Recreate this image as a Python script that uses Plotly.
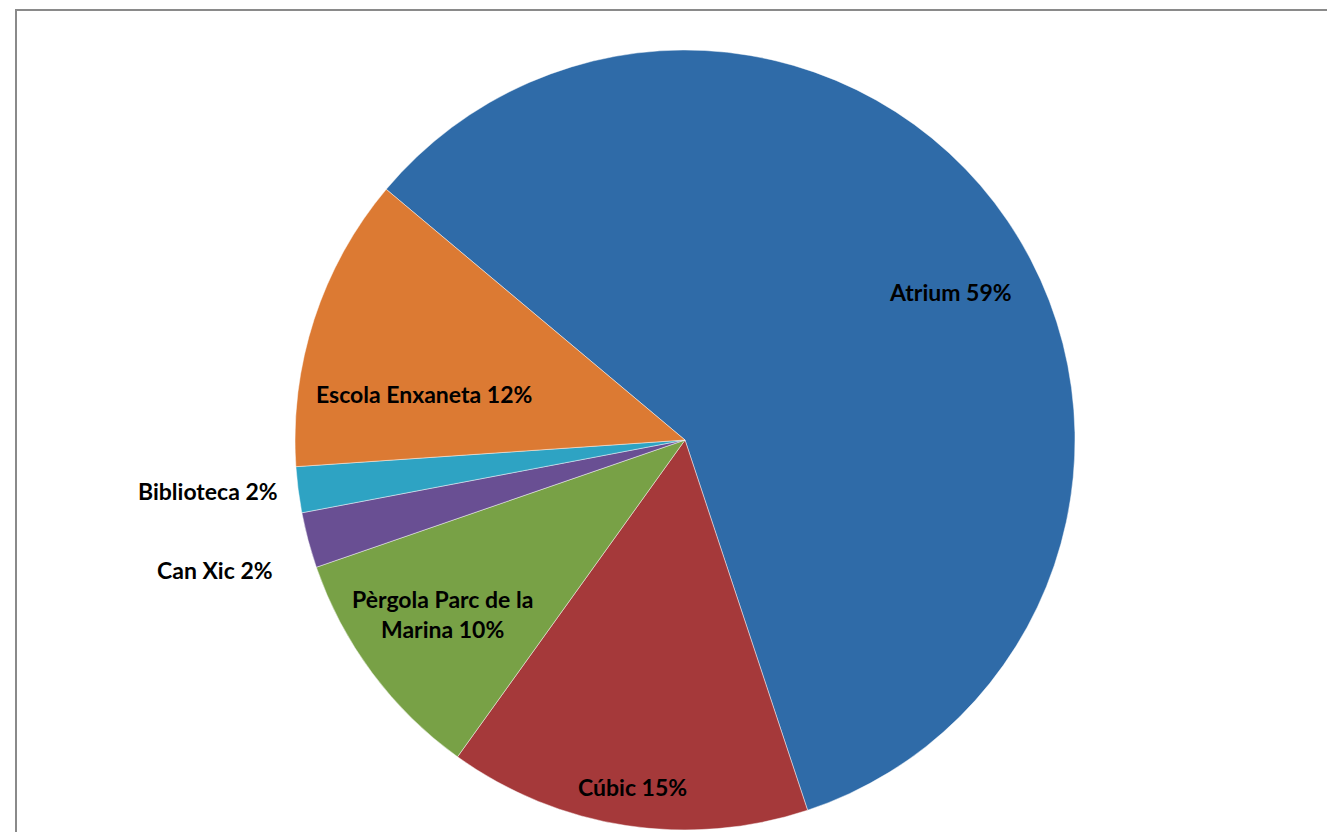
import math
import plotly.graph_objects as go

# ---- data ----
categories = ["Atrium", "Cúbic", "Pèrgola Parc de la<br>Marina", "Can Xic", "Biblioteca", "Escola Enxaneta"]
values = [58.8, 15.0, 9.8, 2.3, 1.9, 12.2]
colors = ["#2f6ba8", "#a5393a", "#78a146", "#694f93", "#2ea3c3", "#dc7a33"]

# label placement style (radial fraction of radius, angle tweak in degrees)
label_r = [0.78, 0.90, 0.765, 1.25, 1.23, 0.68]
label_dang = [5.0, 0.0, 1.0, -0.6, 1.2, -8.0]

W, H = 1335, 832
OFF = 8  # page body margin offset
cx, cy, R = 685 - OFF, 440 - OFF, 390
rotation = 310

fig = go.Figure(go.Pie(
    labels=categories,
    values=values,
    sort=False,
    direction="clockwise",
    rotation=rotation,
    marker=dict(colors=colors, line=dict(color="rgba(255,255,255,0.45)", width=1)),
    textinfo="none",
    hoverinfo="label+percent",
    showlegend=False,
    domain=dict(x=[(cx - R) / W, (cx + R) / W], y=[(H - (cy + R)) / H, (H - (cy - R)) / H]),
))

total = sum(values)
ann = []
start = rotation
for lab, v, rf, da in zip(categories, values, label_r, label_dang):
    span = v / total * 360
    mid = math.radians(start + span / 2 + da)
    px = cx + rf * R * math.sin(mid)
    py = cy - rf * R * math.cos(mid)
    ann.append(dict(
        x=px / W, y=1 - py / H, xref="paper", yref="paper",
        xanchor="center", yanchor="middle",
        text=f"<b>{lab} {round(v / total * 100)}%</b>", showarrow=False,
        font=dict(family="Lato, Open Sans, sans-serif", size=23, color="#000000"),
        align="center",
    ))
    start += span

fig.update_layout(
    width=W, height=H,
    margin=dict(l=0, r=0, t=0, b=0),
    paper_bgcolor="white", plot_bgcolor="white",
    annotations=ann,
    shapes=[dict(type="rect", xref="paper", yref="paper",
                 x0=(16 - OFF) / W, x1=1.05, y0=-0.05, y1=1 - (10 - OFF) / H,
                 line=dict(color="#8a8a8a", width=2))],
)
fig.write_html("out.html")
